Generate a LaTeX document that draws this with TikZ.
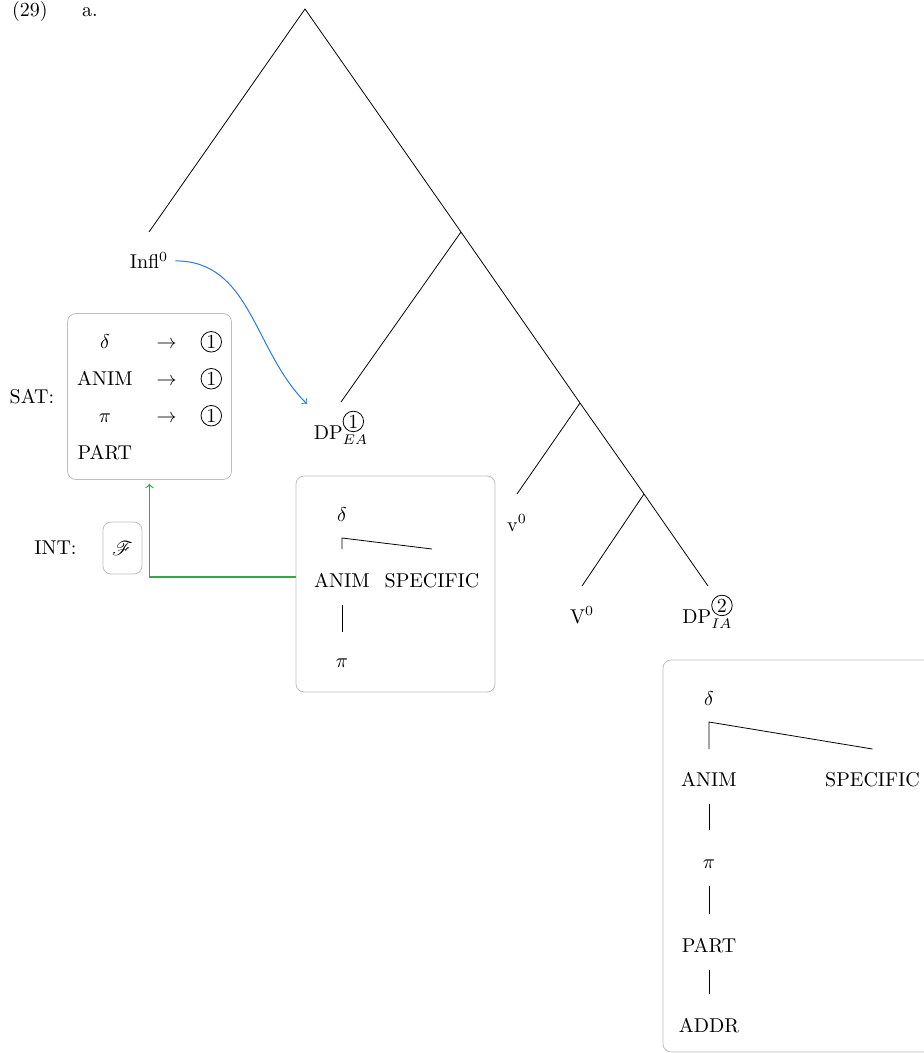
\documentclass[tikz,border=0pt]{standalone}
\usepackage{mathrsfs}
\usetikzlibrary{positioning}

\definecolor{boxgray}{RGB}{190,190,190}
\definecolor{arrowblue}{RGB}{42,122,214}
\definecolor{arrowgreen}{RGB}{52,168,72}

\newcommand{\circnum}[1]{\tikz[baseline=(cn.base)] \node[circle, draw, inner sep=0.7pt] (cn) {#1};}

\tikzset{
  featbox/.style={draw=boxgray, rounded corners=4pt},
  leaf/.style={anchor=base},
  chainline/.style={shorten <=9pt, shorten >=19pt},
}

\begin{document}
\begin{tikzpicture}[x=0.5pt, y=-0.5pt]
\useasboundingbox (0,0) rectangle (924,1053);
\node[anchor=base west] (exnum) at (5,17) {(29)};
\node[anchor=base west] (exsub) at (75,17) {a.};

% tree
\coordinate (root) at (305,9);
\coordinate (n1) at (461,232);
\coordinate (n2) at (580,403);
\coordinate (n3) at (644,494);
\node[leaf] (infl) at (149,269) {Infl$^0$};
\node[leaf] (dpea) at (341,439) {DP$^{\mbox{\circnum{1}}}_{EA}$};
\node[leaf] (vlow) at (517,531) {v$^0$};
\node[leaf] (vbig) at (582,623) {V$^0$};
\node[leaf] (dpia) at (708,623) {DP$^{\mbox{\circnum{2}}}_{IA}$};
\draw ([yshift=18.5pt]infl.base) -- (root) -- (n1) -- (n2) -- (n3) -- ([yshift=18.5pt]dpia.base);
\draw (n1) -- ([yshift=18.5pt]dpea.base);
\draw (n2) -- ([yshift=18.5pt]vlow.base);
\draw (n3) -- ([yshift=18.5pt]vbig.base);

% SAT / INT
\node[featbox, inner xsep=4.75pt, inner ysep=4.5pt] (sat) at (149.5,396.5) {\renewcommand{\arraystretch}{1.54}%
  \begin{tabular}{@{}c@{\hspace{12pt}}c@{\hspace{12pt}}c@{}}
  $\delta$ & $\rightarrow$ & \circnum{1}\\
  ANIM & $\rightarrow$ & \circnum{1}\\
  $\pi$ & $\rightarrow$ & \circnum{1}\\
  PART & & \\
  \end{tabular}};
\node[left=3pt of sat] (satlbl) {SAT:};
\node[featbox, minimum width=19.5pt, minimum height=26pt] (fbox) at (122.5,548) {$\mathscr{F}$};
\node[left=9.5pt of fbox] (intlbl) {INT:};

% features of DP_EA
\node[featbox, minimum width=99.5pt, minimum height=108pt] (dpbox) at (395.5,584) {};
\node (mdelta) at (342,515) {$\delta$};
\node[leaf] (manim) at (342,587) {ANIM};
\node[leaf] (mspec) at (432,587) {SPECIFIC};
\node[leaf] (mpi) at (342,667) {$\pi$};
\coordinate (mj) at ([yshift=-11.5pt]mdelta.center);
\draw ([yshift=19pt]manim.base) -- (mj) -- ([yshift=19pt]mspec.base);
\draw[chainline, shorten >=17.5pt] (manim.base) -- (mpi.base);

% features of DP_IA
\node[featbox, minimum width=134.5pt, minimum height=196pt] (dpiabox) at (797.5,856) {};
\node (bdelta) at (709,699) {$\delta$};
\node[leaf] (banim) at (709,786) {ANIM};
\node[leaf] (bspec) at (872.5,786) {SPECIFIC};
\node[leaf] (bpi) at (709,868) {$\pi$};
\node[leaf] (bpart) at (709,952) {PART};
\node[leaf] (baddr) at (709,1032) {ADDR};
\coordinate (bj) at ([yshift=-11.5pt]bdelta.center);
\draw ([yshift=18.5pt]banim.base) -- (bj) -- ([yshift=18.5pt]bspec.base);
\draw[chainline] (banim.base) -- (bpi.base);
\draw[chainline] (bpi.base) -- (bpart.base);
\draw[chainline] (bpart.base) -- (baddr.base);

% arrows
\draw[->, arrowblue, line width=0.5pt] (infl.east) to[out=0, in=135] (dpea.north west);
\draw[->, arrowgreen, line width=0.6pt, shorten >=2pt] ([yshift=3.5pt]dpbox.west) -| (sat.south);
\end{tikzpicture}
\end{document}
